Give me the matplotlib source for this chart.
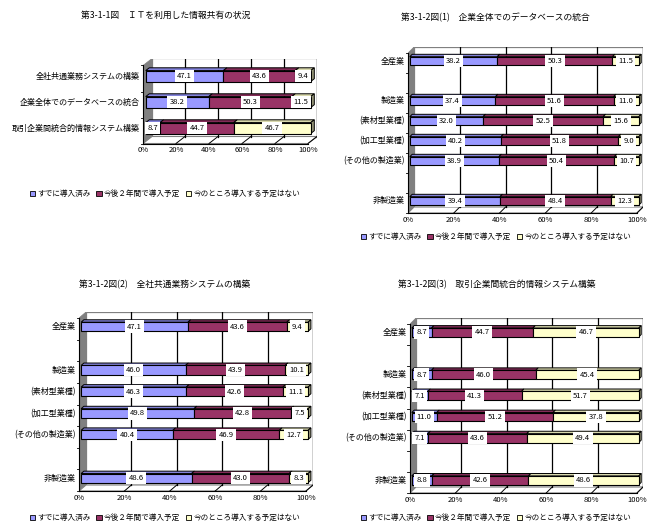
import matplotlib
matplotlib.use('Agg')
import matplotlib.pyplot as plt
from matplotlib.patches import Polygon, Patch
from matplotlib.colors import to_rgb
import numpy as np

plt.rcParams['font.family'] = ['Noto Sans CJK JP', 'DejaVu Sans']

# data
series_names = ['すでに導入済み', '今後２年間で導入予定', '今のところ導入する予定はない']
colors = ['#9999FF', '#993366', '#FFFFCC']
x_ticks = [0, 20, 40, 60, 80, 100]
x_labels = ['0%', '20%', '40%', '60%', '80%', '100%']

title0 = '第3-1-1図　ＩＴを利用した情報共有の状況'
cats0 = ['全社共通業務システムの構築', '企業全体でのデータベースの統合', '取引企業間統合的情報システム構築']
done0 = [47.1, 38.2, 8.7]
plan0 = [43.6, 50.3, 44.7]
none0 = [9.4, 11.5, 46.7]

industries = ['全産業', '製造業', '(素材型業種)', '(加工型業種)', '(その他の製造業)', '非製造業']

title1 = '第3-1-2図(1)　企業全体でのデータベースの統合'
done1 = [38.2, 37.4, 32.0, 40.2, 38.9, 39.4]
plan1 = [50.3, 51.6, 52.5, 51.8, 50.4, 48.4]
none1 = [11.5, 11.0, 15.6, 9.0, 10.7, 12.3]

title2 = '第3-1-2図(2)　全社共通業務システムの構築'
done2 = [47.1, 46.0, 46.3, 49.8, 40.4, 48.6]
plan2 = [43.6, 43.9, 42.6, 42.8, 46.9, 43.0]
none2 = [9.4, 10.1, 11.1, 7.5, 12.7, 8.3]

title3 = '第3-1-2図(3)　取引企業間統合的情報システム構築'
done3 = [8.7, 8.7, 7.1, 11.0, 7.1, 8.8]
plan3 = [44.7, 46.0, 41.3, 51.2, 43.6, 42.6]
none3 = [46.7, 45.4, 51.7, 37.8, 49.4, 48.6]

W, H = 662, 531
fig = plt.figure(figsize=(W / 100, H / 100), dpi=100)


def shade(c, f):
    r, g, b = to_rgb(c)
    return (r * f, g * f, b * f)


def draw_panel(geom, title, title_xy, cats, slots, n, series, legend_xy, h=0.42):
    x0, x1, dxp, ytop, ybot, dyp = geom
    sx = 100 / (x1 - x0)
    sy = n / (ybot - ytop)
    DX, DY = dxp * sx, dyp * sy
    ax = fig.add_axes([x0 / W, 1 - ybot / H, (x1 - x0 + dxp) / W, (ybot - ytop + dyp) / H])
    ax.set_xlim(0, 100 + DX)
    ax.set_ylim(0, n + DY)
    ax.axis('off')

    # walls and floor
    ax.add_patch(Polygon([(DX, DY), (100 + DX, DY), (100 + DX, n + DY), (DX, n + DY)],
                         closed=True, fc='white', ec='#808080', lw=0.9, zorder=0))
    ax.add_patch(Polygon([(0, 0), (DX, DY), (DX, n + DY), (0, n)],
                         closed=True, fc='#808080', ec='#808080', lw=0.5, zorder=1))
    ax.add_patch(Polygon([(0, 0), (100, 0), (100 + DX, DY), (DX, DY)],
                         closed=True, fc='white', ec='#808080', lw=0.8, zorder=1))
    ax.plot([0, 0], [0, n], color='black', lw=0.8, zorder=2, clip_on=False)
    ax.plot([0, 100], [0, 0], color='black', lw=0.8, zorder=2, clip_on=False)
    for k in range(n + 1):
        ax.plot([-2.5 * sx, 0], [k, k], color='black', lw=0.6, clip_on=False, zorder=2)
    for k in x_ticks[1:]:
        ax.plot([k + DX, k + DX], [DY, n + DY], color='black', lw=0.9, zorder=1.5)
        ax.plot([k, k + DX], [0, DY], color='black', lw=0.7, zorder=1.5)
    for k, lab in zip(x_ticks, x_labels):
        ax.text(k, -2.5 * sy, lab, ha='center', va='top', fontsize=5.5, clip_on=False)

    # bars
    ox, oy = 0.3 * DX, 0.35 * DY
    ddx, ddy = 0.4 * DX, 0.4 * DY
    vals = np.array(series, dtype=float)
    tot = vals.sum(axis=0)
    pct = vals / tot * 100
    for j, s in enumerate(slots):
        yb = n - s - 0.5 + oy
        left = ox
        for i in range(len(series)):
            w = pct[i, j]
            ax.barh(yb, w, left=left, height=h, color=colors[i], edgecolor='black',
                    lw=0.8, zorder=3)
            top = yb + h / 2
            ax.add_patch(Polygon([(left, top), (left + w, top), (left + w + ddx, top + ddy),
                                  (left + ddx, top + ddy)], closed=True,
                                 fc=shade(colors[i], 0.85), ec='black', lw=0.7, zorder=2.9))
            ax.text(left + w / 2, yb, f'{vals[i, j]:.1f}', ha='center', va='center',
                    fontsize=5.5, zorder=6,
                    bbox=dict(boxstyle='square,pad=0.3', fc='white', ec='none'))
            left += w
        ax.add_patch(Polygon([(left, yb - h / 2), (left, yb + h / 2),
                              (left + ddx, yb + h / 2 + ddy), (left + ddx, yb - h / 2 + ddy)],
                             closed=True, fc=shade(colors[-1], 0.6), ec='black', lw=0.7, zorder=2.9))
        ax.text(-3.5 * sx, yb, cats[j], ha='right', va='center', fontsize=5.8, clip_on=False)

    fig.text(title_xy[0] / W, 1 - title_xy[1] / H, title, ha='center', va='center', fontsize=6.3)
    handles = [Patch(fc=c, ec='black', lw=0.6) for c in colors]
    fig.legend(handles, series_names, loc='center', ncol=3, frameon=False, fontsize=5.5,
               bbox_to_anchor=(legend_xy[0] / W, 1 - legend_xy[1] / H),
               handlelength=0.7, handleheight=0.7, handletextpad=0.3, columnspacing=0.7,
               borderpad=0, borderaxespad=0)


slots6 = [0, 2, 3, 4, 5, 7]
draw_panel((143, 308, 9, 65.5, 143.5, 7), title0, (166, 15), cats0, [0, 1, 2], 3,
           [done0, plan0, none0], (165, 194))
draw_panel((408, 637, 6, 53, 213, 6), title1, (495, 17), industries, slots6, 8,
           [done1, plan1, none1], (496, 237))
draw_panel((79, 306, 7, 318, 491, 6), title2, (165, 285), industries, slots6, 8,
           [done2, plan2, none2], (165, 518))
draw_panel((410, 637, 6, 324, 493, 6), title3, (497, 285), industries, slots6, 8,
           [done3, plan3, none3], (496, 518))

fig.savefig('out.png', dpi=100)
